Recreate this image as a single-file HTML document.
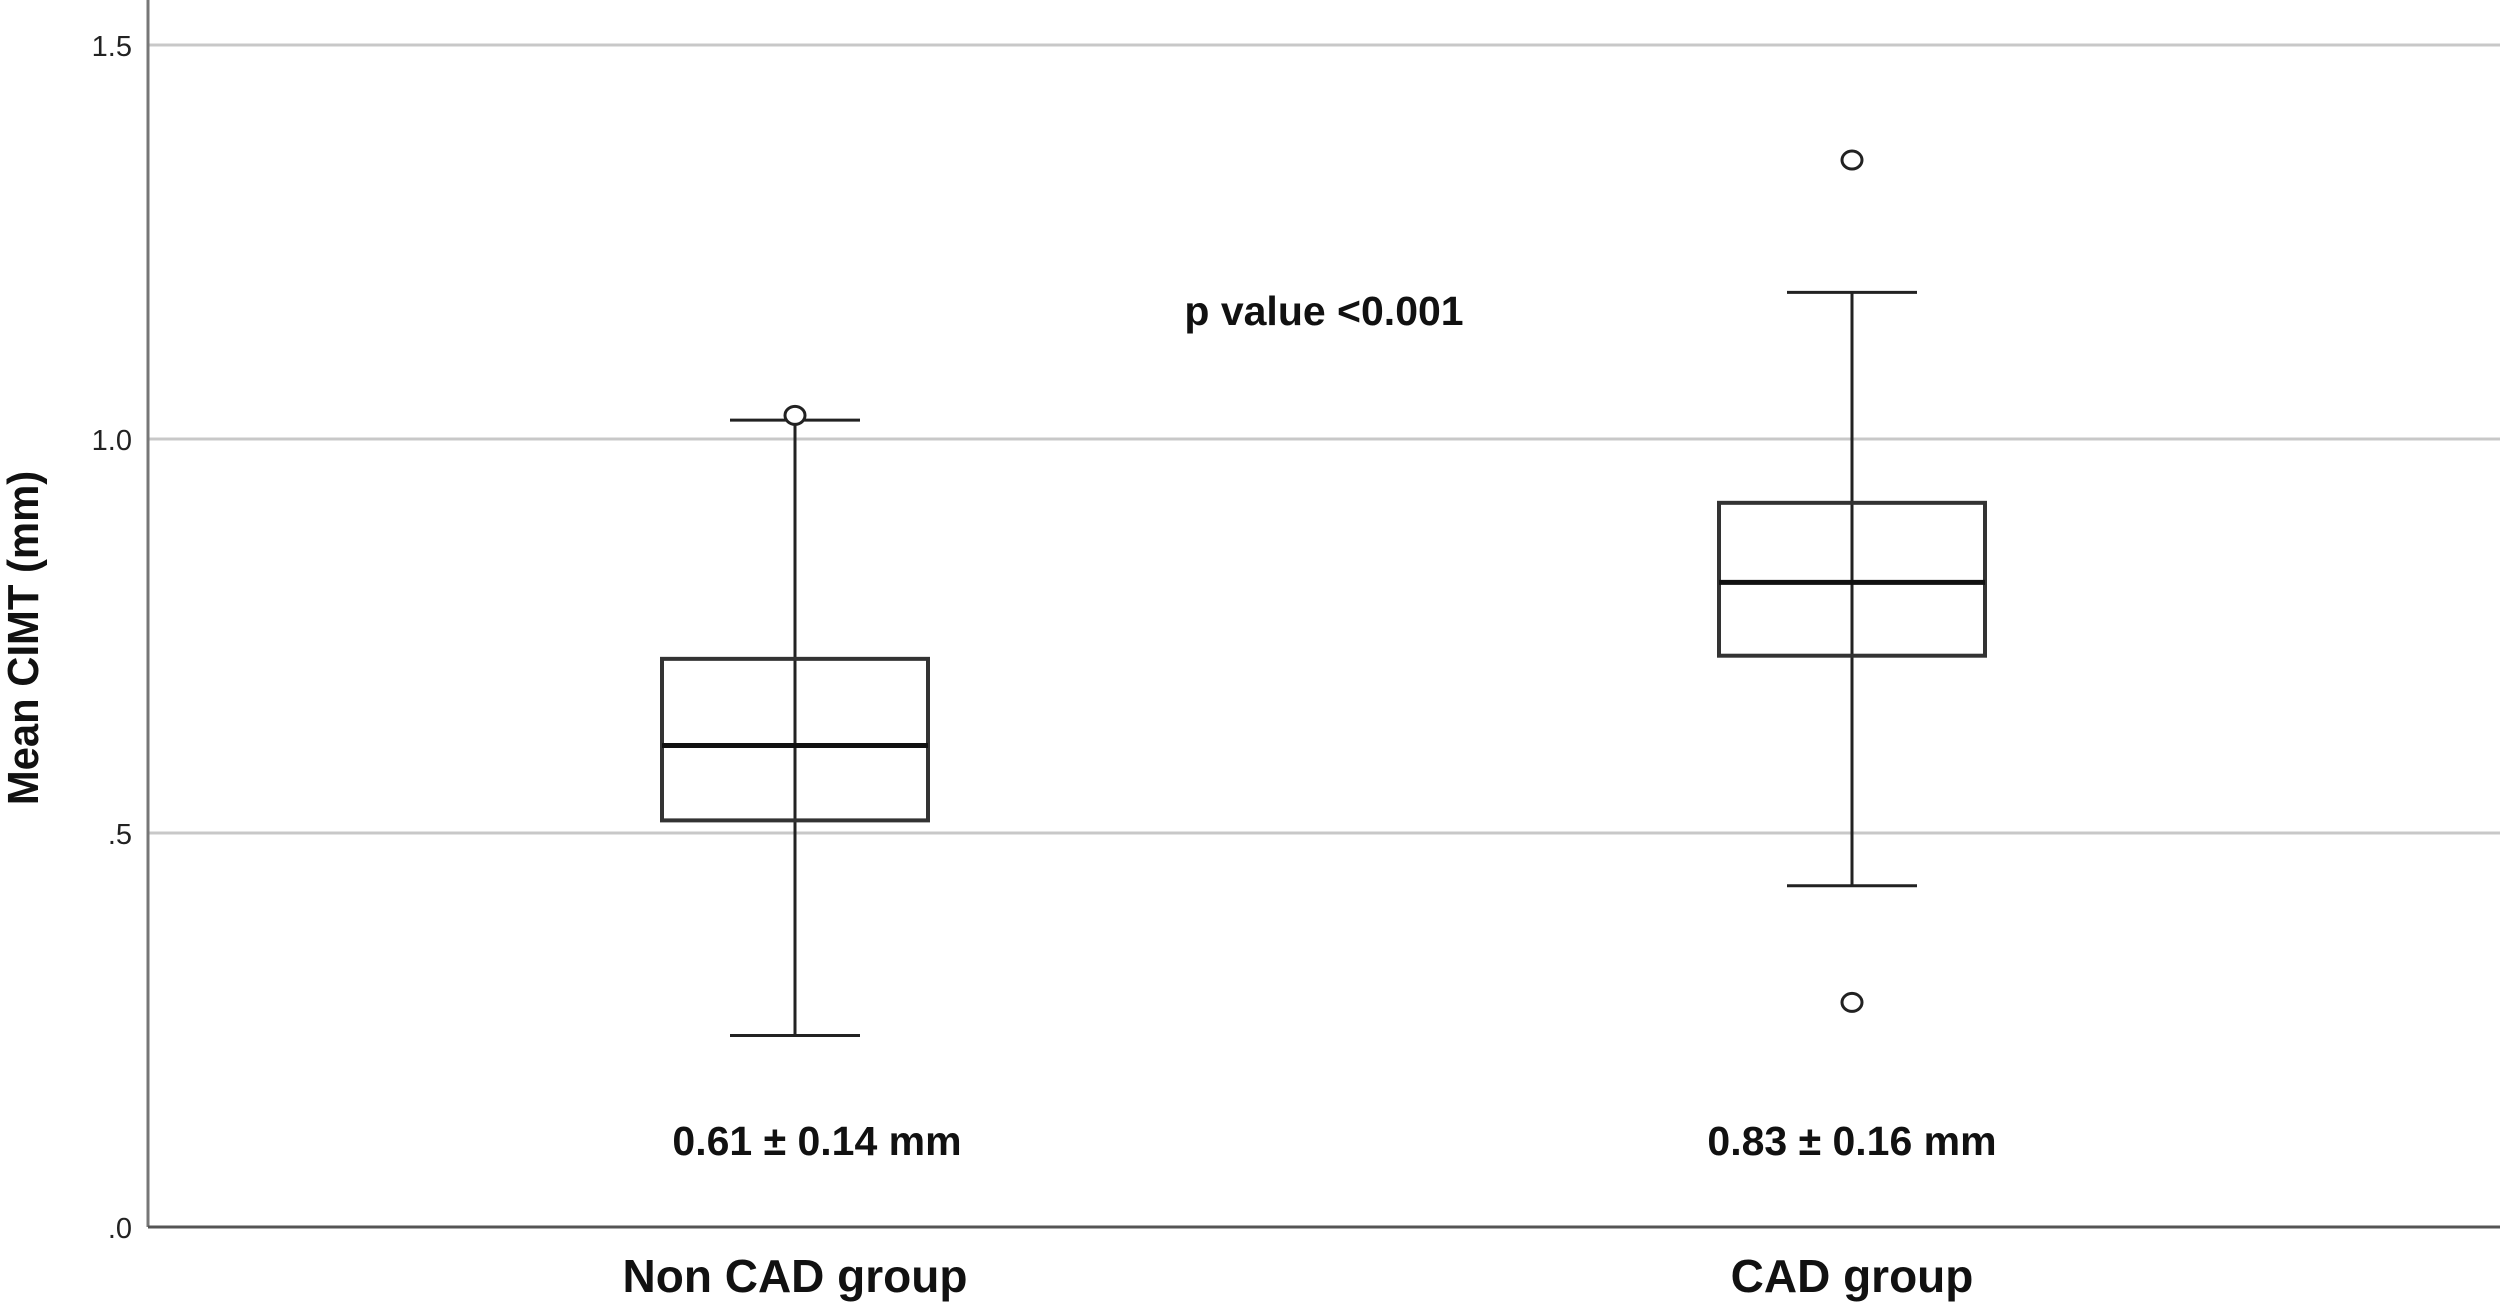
<!DOCTYPE html>
<html><head><meta charset="utf-8"><style>
html,body{margin:0;padding:0;background:#fff;}
svg{display:block;font-family:"Liberation Sans",Arial,sans-serif;}
</style></head><body>
<svg id="chart" width="2500" height="1302" viewBox="0 0 2500 1302">
<g id="grid"></g><g id="boxes"></g><g id="labels"></g>
</svg>
<script>
const categories = ["Non CAD group", "CAD group"];
const q1 = [0.516, 0.725];
const medians = [0.611, 0.818];
const q3 = [0.721, 0.919];
const whiskerLow = [0.243, 0.433];
const whiskerHigh = [1.024, 1.186];
const outliers = [[1.03], [1.354, 0.285]];
const annotations = ["0.61 \u00b1 0.14 mm", "0.83 \u00b1 0.16 mm"];
const tickValues = [0, 0.5, 1.0, 1.5];
const tickLabels = [".0", ".5", "1.0", "1.5"];

const NS = "http://www.w3.org/2000/svg";
const X0 = 148, X1 = 2500, Y0 = 1227, PX = 788;
const y = v => Y0 - v * PX;
const xc = i => [795, 1852][i];
function mk(tag, attrs, parent, text) {
  const e = document.createElementNS(NS, tag);
  for (const k in attrs) e.setAttribute(k, attrs[k]);
  if (text !== undefined) e.textContent = text;
  parent.appendChild(e); return e;
}
const grid = document.getElementById("grid"), boxes = document.getElementById("boxes"), labels = document.getElementById("labels");

tickValues.forEach((v, i) => {
  if (v > 0) {
    const l = mk("line", {x1: X0, x2: X1, y1: y(v), y2: y(v), stroke: "#c8c8c8", "stroke-width": 3}, grid);
    
    
  }
  const t = mk("text", {x: 132, y: y(v) + 11, "text-anchor": "end", "font-size": 29, fill: "#222"}, labels, tickLabels[i]);
  
  
});
const ax = mk("line", {x1: X0, x2: X0, y1: 0, y2: Y0, stroke: "#777", "stroke-width": 3}, grid);


const bx = mk("line", {x1: X0, x2: X1, y1: Y0, y2: Y0, stroke: "#555", "stroke-width": 3}, grid);



categories.forEach((c, i) => {
  const cx = xc(i), hw = 133, cw = 65;
  const g = mk("g", {}, boxes);
  
  
  const s = {stroke: "#222", "stroke-width": 3, fill: "none"};
  mk("line", Object.assign({x1: cx, x2: cx, y1: y(whiskerHigh[i]), y2: y(whiskerLow[i])}, s), g);
  mk("line", Object.assign({x1: cx - cw, x2: cx + cw, y1: y(whiskerHigh[i]), y2: y(whiskerHigh[i])}, s), g);
  mk("line", Object.assign({x1: cx - cw, x2: cx + cw, y1: y(whiskerLow[i]), y2: y(whiskerLow[i])}, s), g);
  mk("rect", Object.assign({x: cx - hw, y: y(q3[i]), width: 2 * hw, height: y(q1[i]) - y(q3[i])}, s, {stroke: "#333", "stroke-width": 4}), g);
  mk("line", {x1: cx - hw, x2: cx + hw, y1: y(medians[i]), y2: y(medians[i]), stroke: "#111", "stroke-width": 5}, g);
  outliers[i].forEach(o => {
    const e = mk("ellipse", {cx: cx, cy: y(o), rx: 10, ry: 9, fill: "#fff", stroke: "#222", "stroke-width": 3}, g);
    
    
  });
  const a = mk("text", {x: cx + (i === 0 ? 22 : 0), y: 1155, "text-anchor": "middle", "font-size": 41, "font-weight": "bold", fill: "#111"}, labels, annotations[i]);
  
  
  const t = mk("text", {x: cx, y: 1292, "text-anchor": "middle", "font-size": 46, "font-weight": "bold", fill: "#111"}, labels, c);
  
  
});
const p = mk("text", {x: 1324, y: 325, "text-anchor": "middle", "font-size": 41, "font-weight": "bold", fill: "#111"}, labels, "p value <0.001");


const yt = mk("text", {x: 0, y: 0, transform: "translate(38,638) rotate(-90) scale(0.95,1)", "text-anchor": "middle", "font-size": 44, "font-weight": "bold", fill: "#111"}, labels, "Mean CIMT (mm)");


</script>
</body></html>
